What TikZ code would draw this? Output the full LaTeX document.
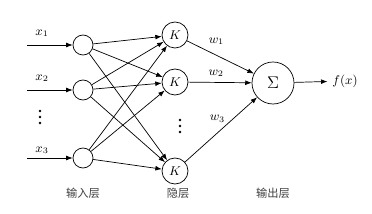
\documentclass[tikz,border=0pt]{standalone}
\usepackage{fontspec}
\newfontfamily\cjk{Noto Sans CJK SC}
\usetikzlibrary{arrows.meta,positioning}

\begin{document}
\begin{tikzpicture}[x=0.025cm,y=-0.025cm,font=\small,>={Latex[length=1.6mm,width=1.2mm]},
  inp/.style={draw=black,line width=0.5pt,circle,minimum size=0.5cm,inner sep=0pt},
  kern/.style={draw=black,line width=0.5pt,circle,minimum size=0.65cm,inner sep=0pt},
  summ/.style={draw=black,line width=0.5pt,circle,minimum size=1.05cm,inner sep=0pt},
  lab/.style={font=\cjk\footnotesize,text=black!75},
  conn/.style={->,draw=black,line width=0.5pt}]
\useasboundingbox (0,0) rectangle (372,214);

% ---- input layer ----
\node[inp] (i1) at (83,45) {};
\node[inp] (i2) at (83,90) {};
\node[inp] (i3) at (83,158) {};
\coordinate (s1) at (27,45);
\coordinate (s2) at (27,90);
\coordinate (s3) at (27,158);
\node (x1) at (42,33) {$x_1$};
\node (x2) at (42,78) {$x_2$};
\node (x3) at (42,150) {$x_3$};
% dots between x2 and x3
\foreach \k in {0,1,2} \fill (40,111+6*\k) circle (0.9pt);

% ---- hidden layer ----
\node[kern] (h1) at (175,35) {$K$};
\node[kern] (h2) at (175,82) {$K$};
\node[kern] (h3) at (175,171) {$K$};
\foreach \k in {0,1,2} \fill (180,120+6*\k) circle (0.9pt);

% ---- output layer ----
\node[summ] (s) at (273,83) {\large$\Sigma$};
\node (out) at (345,81) {$f(x)$};

% ---- connections ----
\foreach \i in {1,2,3} \draw[conn] (s\i) -- (i\i);
\foreach \i in {1,2,3}\foreach \j in {1,2,3} \draw[conn] (i\i) -- (h\j);
\draw[conn] (h1) -- node[pos=0.44,above=4pt] {$w_1$} (s);
\draw[conn] (h2) -- node[pos=0.44,above=0.5pt] {$w_2$} (s);
\draw[conn] (h3) -- node[pos=0.45,above=4pt] {$w_3$} (s);
\draw[conn] (s) -- (out);

% ---- layer names ----
\node[lab] (l1) at (83,193) {输入层};
\node[lab] (l2) at (178,193) {隐层};
\node[lab] (l3) at (273,193) {输出层};
\end{tikzpicture}
\end{document}
